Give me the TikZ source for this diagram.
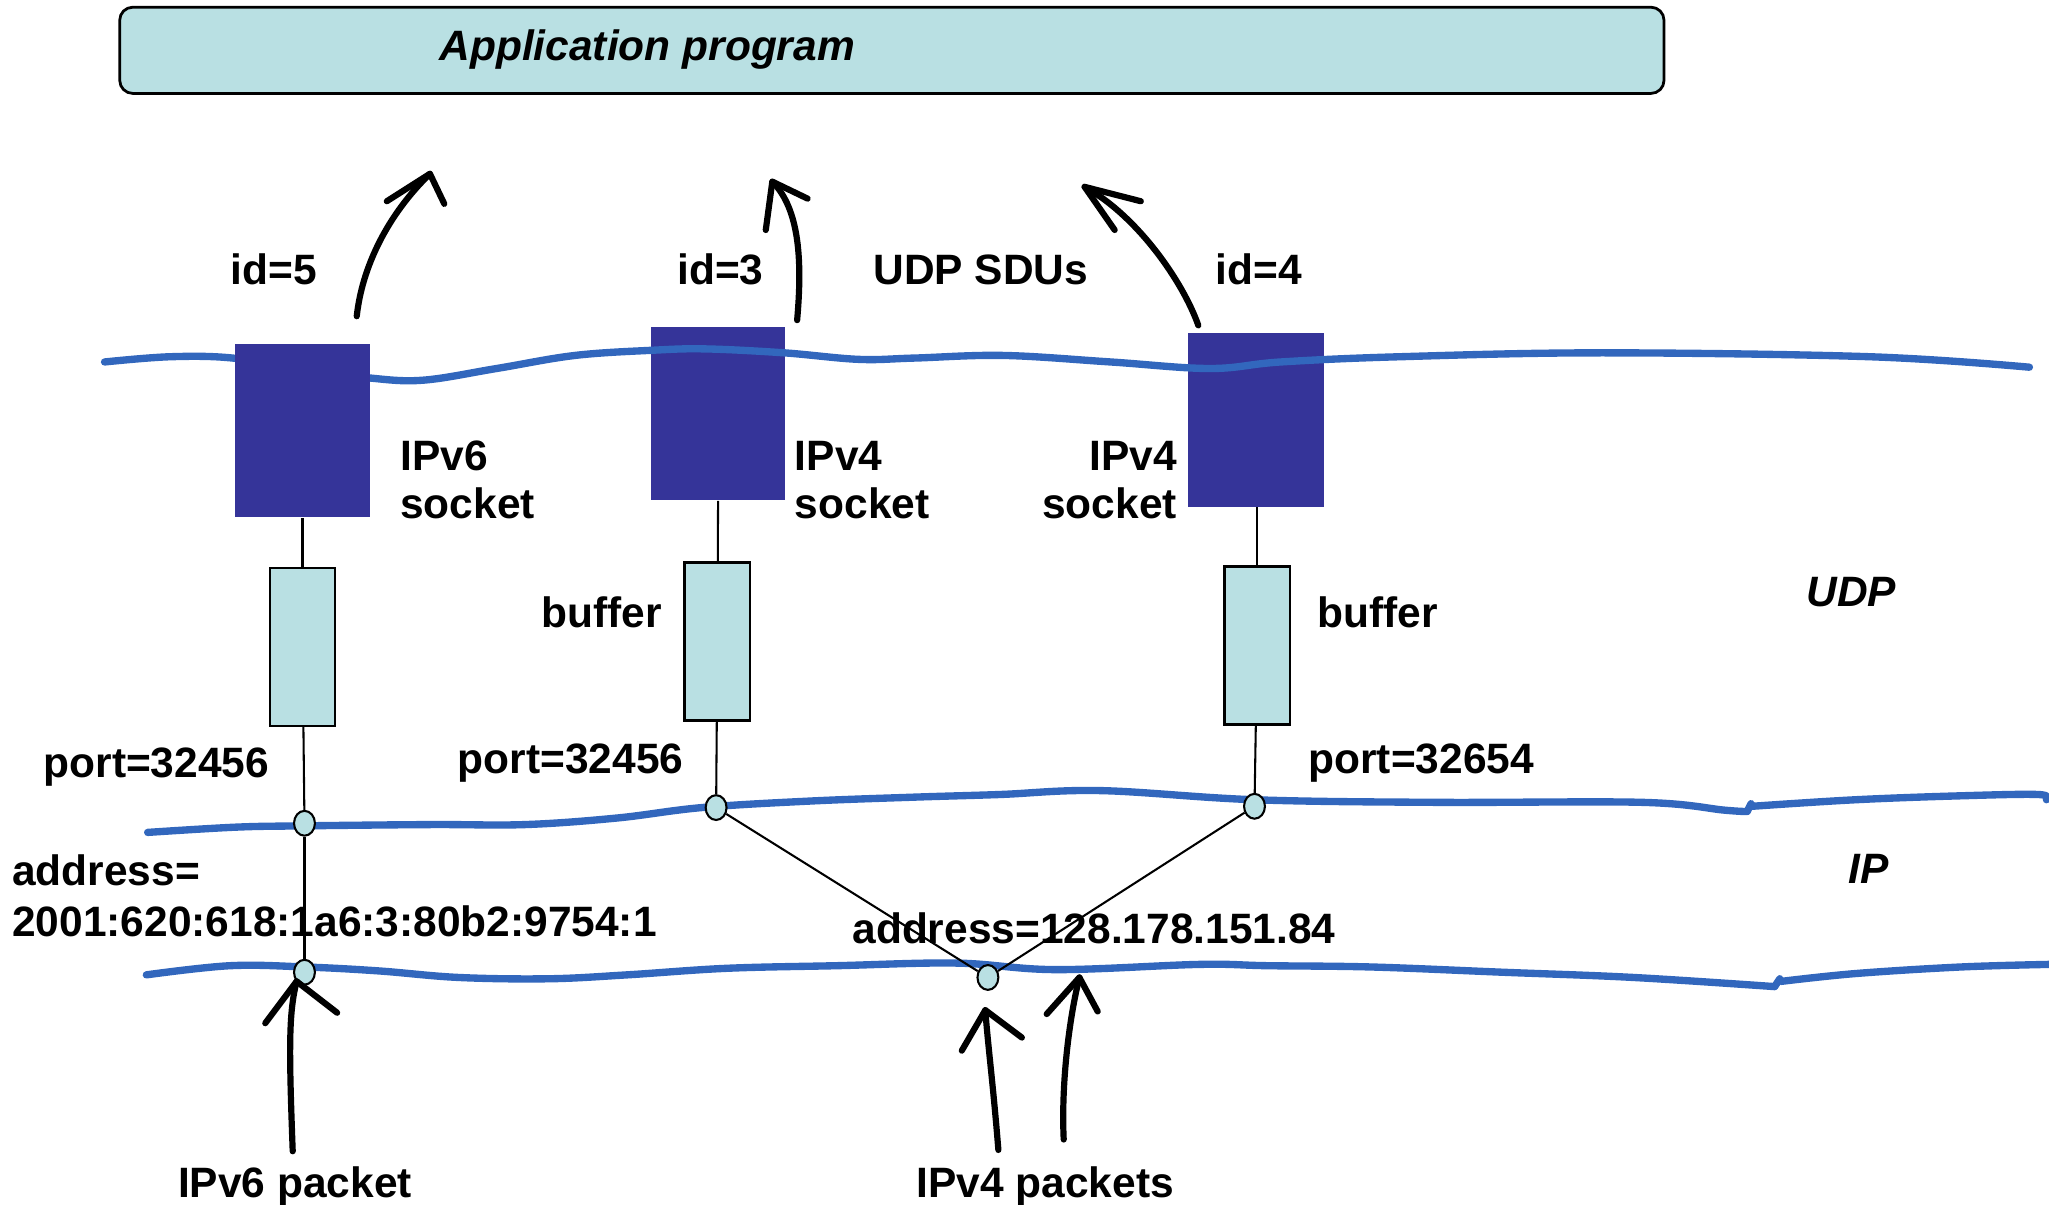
\documentclass[tikz,border=0pt]{standalone}
\usepackage{fontspec}
\setmainfont{Liberation Sans}
\usepackage{tikz}
\usetikzlibrary{shapes.geometric}
\definecolor{paleblue}{RGB}{185,224,227}
\definecolor{sockblue}{RGB}{53,52,153}
\definecolor{wireblue}{RGB}{50,103,189}
\tikzset{
  lbl/.style={inner sep=0pt,font=\fontsize{18.5}{22}\selectfont\bfseries},
  layer/.style={inner sep=0pt,font=\fontsize{18.5}{22}\selectfont\bfseries\itshape},
  wave/.style={wireblue,line width=3.2pt,line cap=round,line join=round},
  socketbox/.style={rectangle,fill=sockblue,minimum width=2.06cm,minimum height=2.66cm,inner sep=0pt},
  bufbox/.style={rectangle,draw=black,fill=paleblue,line width=1.1pt,minimum width=1cm,minimum height=2.42cm,inner sep=0pt},
  port/.style={ellipse,draw=black,fill=paleblue,line width=0.9pt,minimum width=0.32cm,minimum height=0.38cm,inner sep=0pt},
  wire/.style={black,line width=0.9pt},
  pen/.style={black,line width=2.7pt,line cap=round,line join=round}
}
\begin{document}
\begin{tikzpicture}[x=0.02cm,y=-0.02cm]
\useasboundingbox (0,0) rectangle (1568,922);

\node[rectangle,rounded corners=0.2cm,draw=black,fill=paleblue,line width=1.2pt,minimum width=23.64cm,minimum height=1.32cm] (app) at (682.5,38.5) {};
\node[layer,anchor=base west] (apptext) at (336,46) {Application program};

\node[socketbox] (sock2) at (549.5,316.5) {};
\node[socketbox,minimum width=2.08cm] (sock3) at (961,321.5) {};
\draw[wave] plot[smooth,tension=0.6] coordinates {(80,277) (130,273) (178,274) (230,283) (280,289) (323,291) (380,282) (440,272) (500,268) (540,267) (600,270) (657,275) (700,274) (768,272) (850,277) (926,282) (980,277) (1071,273) (1226,270) (1431,273) (1553,281)};
\node[socketbox] (sock1) at (231.5,329.5) {};

\draw[wave] plot[smooth,tension=0.6] coordinates {(113,637) (180,633) (231,632) (330,631) (402,631) (472,626) (537,618) (620,613) (700,610) (765,608) (842,605) (960,612) (1100,614) (1257,614) (1320,620) (1337,621)};
\draw[wave] (1337,621) -- (1340,615);
\draw[wave] plot[smooth,tension=0.6] coordinates {(1341,617) (1420,612) (1500,609) (1560,608) (1566,612)};

\draw[wave] plot[smooth,tension=0.6] coordinates {(112,746) (176,739) (234,740) (290,743) (351,748) (420,749) (480,746) (556,741) (640,739) (732,737) (808,742) (918,738) (970,739) (1050,740) (1150,744) (1250,748) (1358,755)};
\draw[wave] (1358,755) -- (1362,749);
\draw[wave] plot[smooth,tension=0.6] coordinates {(1363,751) (1420,745) (1500,740) (1568,738)};

\node[bufbox] (buf1) at (231.5,495) {};
\node[bufbox] (buf2) at (549,491) {};
\node[bufbox] (buf3) at (962,494) {};

\node[port] (p6) at (233,630) {};
\node[port] (a6) at (233,744) {};
\node[port] (p4a) at (548,618) {};
\node[port] (p4b) at (960,617) {};
\node[port] (a4) at (756,748) {};

\draw[wire] (sock1.south) -- (buf1);
\draw[wire] (sock2.south) -- (buf2);
\draw[wire] (962,388) -- (buf3);
\draw[wire] (buf1) -- (p6);
\draw[wire] (buf2) -- (p4a);
\draw[wire] (buf3) -- (p4b);
\draw[wire] (p6) -- (a6);
\draw[wire] (p4a) -- (a4);
\draw[wire] (p4b) -- (a4);

\node[lbl,anchor=base west] (id5) at (176,218) {id=5};
\node[lbl,anchor=base west] (id3) at (518,218) {id=3};
\node[lbl,anchor=base west] (sdus) at (668,218) {UDP SDUs};
\node[lbl,anchor=base west] (id4) at (930,218) {id=4};

\node[lbl,anchor=base west] (v6a) at (306,360) {IPv6};
\node[lbl,anchor=base west] (v6b) at (306,397) {socket};
\node[lbl,anchor=base west] (v4a) at (608,360) {IPv4};
\node[lbl,anchor=base west] (v4b) at (608,397) {socket};
\node[lbl,anchor=base east] (v4c) at (901,360) {IPv4};
\node[lbl,anchor=base east] (v4d) at (901,397) {socket};

\node[lbl,anchor=base east] (bufl) at (507,480) {buffer};
\node[lbl,anchor=base west] (bufr) at (1008,480) {buffer};
\node[layer,anchor=base west] (udp) at (1382,464) {UDP};

\node[lbl,anchor=base west] (port1) at (33,595) {port=32456};
\node[lbl,anchor=base west] (port2) at (350,592) {port=32456};
\node[lbl,anchor=base west] (port3) at (1001,592) {port=32654};

\node[lbl,anchor=base west] (addr6a) at (9,678) {address=};
\node[lbl,anchor=base west] (addr6b) at (9,717) {2001:620:618:1a6:3:80b2:9754:1};
\node[lbl,anchor=base west] (addr4) at (652,722) {address=128.178.151.84};
\node[layer,anchor=base west] (ip) at (1414,676) {IP};

\node[lbl,anchor=base west] (pk6) at (136,916) {IPv6 packet};
\node[lbl,anchor=base west] (pk4) at (701,916) {IPv4 packets};

\coordinate (s5) at (273,242);
\coordinate (t5) at (329,133);
\coordinate (s3) at (610,245);
\coordinate (t3) at (591,139);
\coordinate (s4) at (917,249);
\coordinate (t4) at (830,143);
\coordinate (b6) at (224,881);
\coordinate (t6) at (227,751);
\coordinate (b4a) at (764,880);
\coordinate (t4a) at (754,773);
\coordinate (b4b) at (814,872);
\coordinate (t4b) at (826,748);

\draw[pen] (s5) .. controls (277,205) and (296,165) .. (t5);
\draw[pen] (t5) ++(-33,21) -- (t5) -- ++(11,23);
\draw[pen] (s3) .. controls (614,200) and (612,160) .. (t3);
\draw[pen] (t3) ++(-5,37) -- (t3) -- ++(27,13);
\draw[pen] (s4) .. controls (905,215) and (870,165) .. (t4);
\draw[pen] (t4) ++(23,33) -- (t4) -- ++(43,11);
\draw[pen] (b6) .. controls (221,800) and (221,775) .. (t6);
\draw[pen] (t6) ++(-24,32) -- (t6) -- ++(31,24);
\draw[pen] (b4a) .. controls (760,830) and (756,800) .. (t4a);
\draw[pen] (t4a) ++(-18,31) -- (t4a) -- ++(28,21);
\draw[pen] (b4b) .. controls (812,830) and (818,780) .. (t4b);
\draw[pen] (t4b) ++(-25,28) -- (t4b) -- ++(14,26);
\end{tikzpicture}
\end{document}
